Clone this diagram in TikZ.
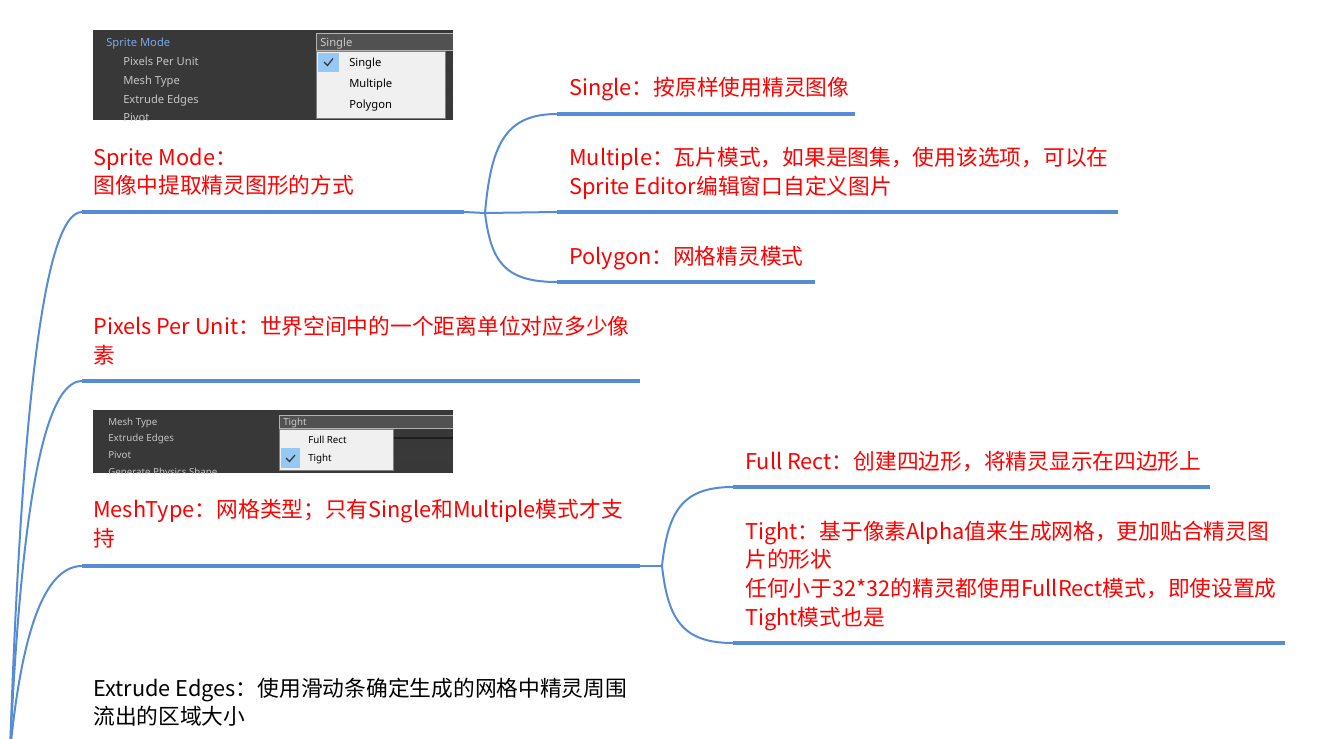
\documentclass[tikz,border=0pt]{standalone}
\usepackage{fontspec}
\setmainfont{Noto Sans CJK SC}
\newfontfamily\uifont{Noto Sans}
\definecolor{lineblue}{RGB}{86,140,214}
\definecolor{uibg}{RGB}{56,56,56}
\definecolor{uifield}{RGB}{81,81,81}
\definecolor{uitext}{RGB}{196,196,196}
\definecolor{uiblue}{RGB}{122,166,232}
\definecolor{popbg}{RGB}{240,240,240}
\definecolor{checkbg}{RGB}{150,200,245}
\begin{document}
\begin{tikzpicture}[x=0.75pt,y=-0.75pt,
  txt/.style={anchor=base west,inner sep=0,font=\fontsize{16.3}{21}\selectfont,text=red},
  blacktxt/.style={txt,text=black},
  bar/.style={line width=3pt,draw=lineblue},
  link/.style={line width=1.5pt,draw=lineblue},
  ui/.style={anchor=base west,inner sep=0,font=\uifont\fontsize{8.4}{9}\selectfont,text=uitext},
  uis/.style={ui,font=\uifont\fontsize{7.3}{8}\selectfont},
  pop/.style={ui,text=black},
  pops/.style={uis,text=black}]
\useasboundingbox (0,0) rectangle (1336,739);
\clip (0,0) rectangle (1336,739);

% ---------- screenshot 1 ----------
\fill[uibg] (93,30) rectangle (453,120);
\begin{scope}
\clip (93,30) rectangle (453,120);
\fill[uifield] (316,33) rectangle (453,50);
\draw[gray!60,line width=0.5pt] (316,33) rectangle (460,50);
\fill[uifield!70!black] (445,54) rectangle (453,69);
\fill[uifield!70!black] (445,73) rectangle (453,88);
\fill[uifield!70!black] (445,92) rectangle (453,107);
\node[ui,text=uiblue] (s1a) at (106,46) {Sprite Mode};
\node[ui,text=uitext!90!white] (s1f) at (320,46) {Single};
\node[ui] (s1b) at (123,65) {Pixels Per Unit};
\node[ui] (s1c) at (123,84) {Mesh Type};
\node[ui] (s1d) at (123,103) {Extrude Edges};
\node[ui] (s1e) at (123,121.5) {Pivot};
\fill[popbg] (316,51) rectangle (445,118);
\draw[gray,line width=0.5pt] (316,51) rectangle (445,118);
\fill[checkbg] (318,53) rectangle (339,72);
\draw[black!80,line width=0.9pt] (324,62) -- (327.5,65.5) -- (333,58.5);
\node[pop] (p1a) at (349,66) {Single};
\node[pop] (p1b) at (349,87) {Multiple};
\node[pop] (p1c) at (349,108) {Polygon};
\end{scope}

% ---------- screenshot 2 ----------
\fill[uibg] (93,410) rectangle (453,473);
\begin{scope}
\clip (93,410) rectangle (453,473);
\fill[uifield] (279,415) rectangle (453,428);
\draw[gray!60,line width=0.5pt] (279,415) rectangle (460,428);
\draw[uifield!130!white,line width=1pt] (393,438) -- (453,438);
\fill[uifield!70!black] (393,449) rectangle (453,462);
\node[uis] (s2a) at (108,425.5) {Mesh Type};
\node[uis] (s2b) at (108,441.5) {Extrude Edges};
\node[uis] (s2c) at (108,458.5) {Pivot};
\node[uis] (s2d) at (108,475) {Generate Physics Shape};
\node[uis,text=uitext!90!white] (s2f) at (283,425.5) {Tight};
\fill[popbg] (279,429) rectangle (393,470);
\draw[gray,line width=0.5pt] (279,429) rectangle (393,470);
\fill[checkbg] (281,448) rectangle (300,468);
\draw[black!80,line width=0.9pt] (286,458) -- (289.5,461.5) -- (295,455);
\node[pops] (p2a) at (308,443.5) {Full Rect};
\node[pops] (p2b) at (308,461.5) {Tight};
\end{scope}

% ---------- texts ----------
\node[txt] (sm1) at (93,165) {Sprite Mode：};
\node[txt] (sm2) at (93,193) {图像中提取精灵图形的方式};
\node[txt] (pp1) at (93,334) {Pixels Per Unit：世界空间中的一个距离单位对应多少像};
\node[txt] (pp2) at (93,363) {素};
\node[txt] (mt1) at (93,517) {MeshType：网格类型；只有Single和Multiple模式才支};
\node[txt] (mt2) at (93,546) {持};
\node[blacktxt] (ee1) at (93,696) {Extrude Edges：使用滑动条确定生成的网格中精灵周围};
\node[blacktxt] (ee2) at (93,724) {流出的区域大小};
\node[txt] (sg) at (569,95) {Single：按原样使用精灵图像};
\node[txt] (mu1) at (569,165) {Multiple：瓦片模式，如果是图集，使用该选项，可以在};
\node[txt] (mu2) at (569,194) {Sprite Editor编辑窗口自定义图片};
\node[txt] (pg) at (569,264) {Polygon：网格精灵模式};
\node[txt] (fr) at (745,469) {Full Rect：创建四边形，将精灵显示在四边形上};
\node[txt] (ti1) at (745,539) {Tight：基于像素Alpha值来生成网格，更加贴合精灵图};
\node[txt] (ti2) at (745,567) {片的形状};
\node[txt] (ti3) at (745,596) {任何小于32*32的精灵都使用FullRect模式，即使设置成};
\node[txt] (ti4) at (745,625) {Tight模式也是};

% ---------- coordinates ----------
\coordinate (root) at (10,752);
\coordinate (smL) at (82,212);   \coordinate (smR) at (464,212);
\coordinate (ppL) at (82,381);   \coordinate (ppR) at (640,381);
\coordinate (mtL) at (82,566);   \coordinate (mtR) at (640,566);
\coordinate (j1) at (485,213);
\coordinate (sgL) at (557,114);  \coordinate (sgR) at (855,114);
\coordinate (muL) at (557,212);  \coordinate (muR) at (1118,212);
\coordinate (pgL) at (557,282);  \coordinate (pgR) at (815,282);
\coordinate (j2) at (662,566);
\coordinate (frL) at (733,487);  \coordinate (frR) at (1210,487);
\coordinate (tiL) at (733,643);  \coordinate (tiR) at (1285,643);

% ---------- connectors ----------
\draw[link] (root) .. controls (20,454) and (40,212) .. (smL);
\draw[link] (root) .. controls (20,535) and (40,381) .. (ppL);
\draw[link] (root) .. controls (20,649) and (40,566) .. (mtL);

\draw[bar] (smL) -- (smR);
\draw[bar] (ppL) -- (ppR);
\draw[bar] (mtL) -- (mtR);

\draw[link] (smR) -- (j1);
\draw[link] (j1) .. controls (491,145) and (505,114) .. (sgL);
\draw[link] (j1) -- (muL);
\draw[link] (j1) .. controls (491,262) and (505,282) .. (pgL);
\draw[bar] (sgL) -- (sgR);
\draw[bar] (muL) -- (muR);
\draw[bar] (pgL) -- (pgR);

\draw[link] (mtR) -- (j2);
\draw[link] (j2) .. controls (668,510) and (683,487) .. (frL);
\draw[link] (j2) .. controls (668,620) and (683,643) .. (tiL);
\draw[bar] (frL) -- (frR);
\draw[bar] (tiL) -- (tiR);
\end{tikzpicture}
\end{document}
